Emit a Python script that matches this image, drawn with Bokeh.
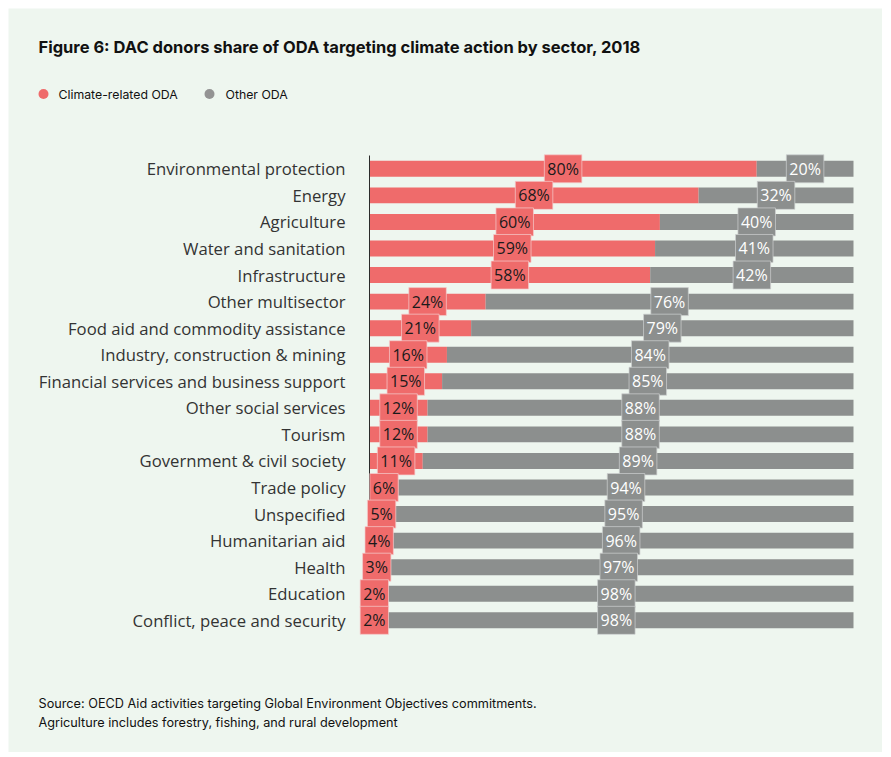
from bokeh.plotting import figure
from bokeh.models import ColumnDataSource, Range1d
from bokeh.core.properties import value
from bokeh.embed import file_html
from bokeh.resources import INLINE

sectors = [
    "Environmental protection", "Energy", "Agriculture", "Water and sanitation",
    "Infrastructure", "Other multisector", "Food aid and commodity assistance",
    "Industry, construction & mining", "Financial services and business support",
    "Other social services", "Tourism", "Government & civil society",
    "Trade policy", "Unspecified", "Humanitarian aid", "Health", "Education",
    "Conflict, peace and security",
]
climate = [80, 68, 60, 59, 58, 24, 21, 16, 15, 12, 12, 11, 6, 5, 4, 3, 2, 2]
other = [20, 32, 40, 41, 42, 76, 79, 84, 85, 88, 88, 89, 94, 95, 96, 97, 98, 98]
series_names = ["Climate-related ODA", "Other ODA"]
title_text = "Figure 6: DAC donors share of ODA targeting climate action by sector, 2018"
notes = ["Source: OECD Aid activities targeting Global Environment Objectives commitments.",
         "Agriculture includes forestry, fishing, and rural development"]

RED = "#ef6b6b"
GREY = "#8c8f8e"
BG = "#eef6ef"

# layout geometry (pixels in the page) -> data units
X0, X100 = 369.0, 853.0
PXU = (X100 - X0) / 100.0
Y0, PITCH = 168.3, 26.56
LEFT, TOP, W, H = 8, 8, 874, 744


def dx(px):
    return (px - X0) / PXU


def dy(py):
    return (py - Y0) / PITCH


pos = list(range(len(sectors)))
src = ColumnDataSource(dict(
    pos=pos,
    sector=sectors,
    climate=climate,
    other=other,
    c_mid=[c / 2 for c in climate],
    o_mid=[c + o / 2 for c, o in zip(climate, other)],
    c_lab=[f"{c}%" for c in climate],
    o_lab=[f"{o}%" for o in other],
))

p = figure(width=W, height=H,
           x_range=Range1d(dx(LEFT), dx(LEFT + W)),
           y_range=Range1d(dy(TOP + H), dy(TOP)),
           output_backend="svg", toolbar_location=None,
           min_border=0, margin=(8, 9, 5, 8))
p.background_fill_color = BG
p.border_fill_color = BG
p.outline_line_color = None
p.grid.visible = False
p.axis.visible = False

p.hbar_stack(["climate", "other"], y="pos", height=0.6, color=[RED, GREY],
             line_color=None, source=src)

# y axis line and category labels
p.segment(x0=[0], x1=[0], y0=[-0.5], y1=[len(sectors) - 0.5],
          line_color="#2b2b2b", line_width=1)
p.text(x=dx(345), y="pos", text="sector", source=src, text_align="right",
       text_baseline="middle", text_font=value("Open Sans"),
       text_font_size="16.7px", text_color="#333333")

common = dict(source=src, y="pos", text_align="center", text_baseline="middle",
              text_font=value("Open Sans"), text_font_size="16px", padding=3,
              background_fill_alpha=1.0, border_line_alpha=0.7)
p.text(x="c_mid", text="c_lab", text_color="#1a1a1a",
       background_fill_color=RED, border_line_color="#f5cfcf", **common)
p.text(x="o_mid", text="o_lab", text_color="#ffffff",
       background_fill_color=GREY, border_line_color="#cfd2d1", **common)

# title
p.text(x=[dx(38)], y=[dy(46)], text=[title_text], text_baseline="middle",
       text_font=value("Inter"), text_font_style="bold", text_font_size="16.5px",
       text_color="#111111")

# legend
p.scatter(x=[dx(43), dx(209)], y=[dy(93.5), dy(93.5)], marker="circle", size=10,
          color=[RED, "#939393"], line_color=None)
p.text(x=[dx(58), dx(225)], y=[dy(93.5), dy(93.5)], text=series_names,
       text_baseline="middle", text_font=value("Inter"), text_font_size="12.3px",
       text_color="#111111")

# footnotes
p.text(x=[dx(38), dx(38)], y=[dy(703), dy(722)], text=notes,
       text_baseline="middle", text_font=value("Inter"), text_font_size="12.7px",
       text_color="#111111")

open("out.html", "w").write(file_html(p, INLINE))
